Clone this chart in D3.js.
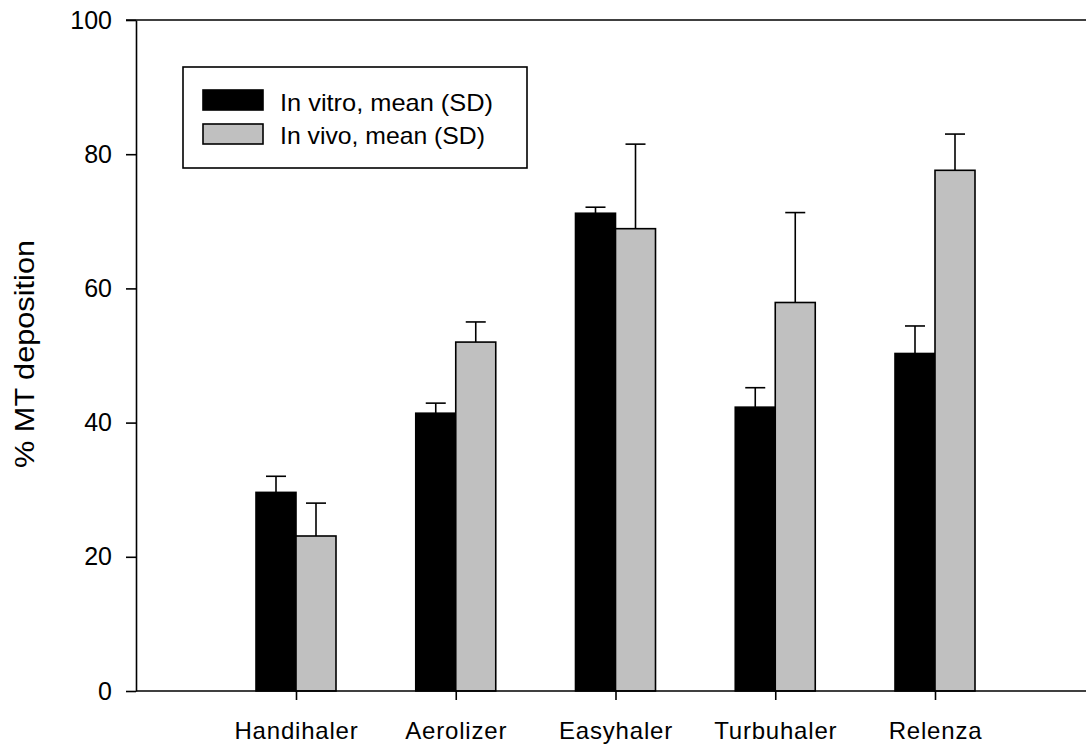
<!DOCTYPE html>
<html><head><meta charset="utf-8">
<script src="https://cdn.jsdelivr.net/npm/d3@7"></script>
<style>body{margin:0;background:#fff}svg{display:block}text{font-family:"Liberation Sans",Arial,sans-serif;fill:#000}</style>
</head><body>
<svg id="c" width="1086" height="744"></svg>
<script>
const categories = ["Handihaler","Aerolizer","Easyhaler","Turbuhaler","Relenza"];
const seriesNames = ["In vitro, mean (SD)","In vivo, mean (SD)"];
const inVitroMean = [29.6, 41.4, 71.2, 42.3, 50.3];
const inVitroSD   = [2.4, 1.5, 0.9, 2.9, 4.1];
const inVivoMean  = [23.1, 52.0, 68.9, 57.9, 77.6];
const inVivoSD    = [4.9, 3.0, 12.6, 13.4, 5.4];
const yTicks = [0,20,40,60,80,100];

const FONT = '"Liberation Sans",Arial,sans-serif';
const svg = d3.select("#c");
const mLeft = 136, mRight = 1086, mTop = 20, mBottom = 691;
const y = d3.scaleLinear().domain([0,100]).range([mBottom, mTop]);
const x = d3.scalePoint().domain(categories).range([296, 935]);
const bw = 40;
const colors = ["#000000","#c0c0c0"];
const series = [
  {mean: inVitroMean, sd: inVitroSD, off: -bw},
  {mean: inVivoMean, sd: inVivoSD, off: 0}
];

// error bars
series.forEach((s, si) => {
  const g = svg.append("g");
  categories.forEach((c, i) => {
    const cx = x(c) + s.off + bw/2;
    g.append("line").attr("x1", cx).attr("x2", cx)
      .attr("y1", y(s.mean[i])).attr("y2", y(s.mean[i] + s.sd[i]))
      .attr("stroke", "#000").attr("stroke-width", 1.6);
    g.append("line").attr("x1", cx - 10).attr("x2", cx + 10)
      .attr("y1", y(s.mean[i] + s.sd[i])).attr("y2", y(s.mean[i] + s.sd[i]))
      .attr("stroke", "#000").attr("stroke-width", 1.6);
  });
});
series.forEach((s, si) => {
  svg.append("g").selectAll("rect").data(categories).join("rect")
    .attr("x", (c) => x(c) + s.off)
    .attr("y", (c, i) => y(s.mean[i]))
    .attr("width", bw)
    .attr("height", (c, i) => y(0) - y(s.mean[i]))
    .attr("fill", colors[si]).attr("stroke", "#000").attr("stroke-width", 1.6);
});

// y axis
const yAxis = d3.axisLeft(y).tickValues(yTicks).tickSize(10).tickPadding(14).tickSizeOuter(0);
const ga = svg.append("g").attr("transform", `translate(${mLeft},0)`).call(yAxis);
ga.select(".domain").attr("stroke-width", 1.6);
ga.selectAll(".tick line").attr("stroke-width", 1.6);
ga.selectAll(".tick text").style("font-size", "25px").style("font-family", FONT).attr("fill", "#000");

// x axis
const xAxis = d3.axisBottom(x).tickSize(9).tickPadding(22).tickSizeOuter(0);
const gx = svg.append("g").attr("transform", `translate(0,${mBottom})`).call(xAxis);
gx.select(".domain").attr("d", `M${mLeft},0H${mRight}`).attr("stroke-width", 1.6);
gx.selectAll(".tick line").attr("stroke-width", 1.6);
gx.selectAll(".tick text").style("font-size", "24px").style("font-family", FONT)
  .style("letter-spacing", "0.8px").attr("fill", "#000");

// top frame line
svg.append("line").attr("x1", mLeft - 10).attr("x2", mRight).attr("y1", mTop).attr("y2", mTop)
  .attr("stroke", "#000").attr("stroke-width", 1.6);

// y label
svg.append("text").attr("transform", "translate(34,354) rotate(-90)")
  .attr("text-anchor", "middle").style("font-size", "27px")
  .attr("textLength", 228).attr("lengthAdjust", "spacingAndGlyphs")
  .text("% MT deposition");

// legend
const lg = svg.append("g");
lg.append("rect").attr("x", 183).attr("y", 67).attr("width", 344).attr("height", 101)
  .attr("fill", "#fff").attr("stroke", "#000").attr("stroke-width", 1.6);
const legendLen = [213, 205];
seriesNames.forEach((n, i) => {
  lg.append("rect").attr("x", 203).attr("y", 90 + i*34).attr("width", 60).attr("height", 20)
    .attr("fill", colors[i]).attr("stroke", "#000").attr("stroke-width", 1.6);
  lg.append("text").attr("x", 280).attr("y", 110.5 + i*33).style("font-size", "24px")
    .attr("textLength", legendLen[i]).attr("lengthAdjust", "spacingAndGlyphs").text(n);
});
</script>
</body></html>
